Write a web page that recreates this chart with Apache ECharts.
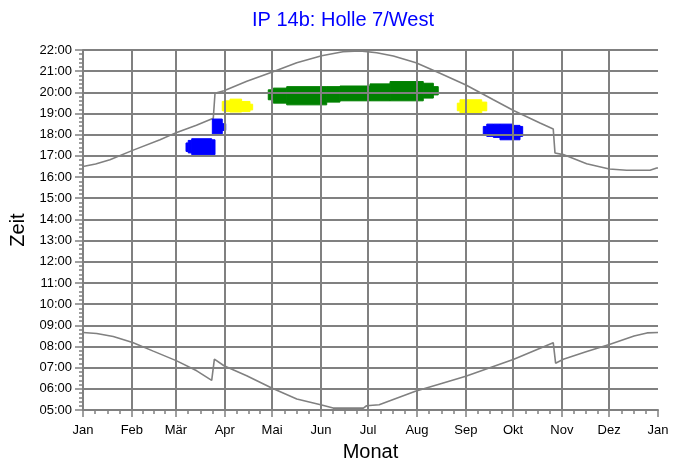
<!DOCTYPE html>
<html>
<head>
<meta charset="utf-8">
<script src="https://cdn.jsdelivr.net/npm/echarts@6/dist/echarts.min.js"></script>
<style>
  html, body { margin: 0; padding: 0; background: #fff; }
  #chart { width: 686px; height: 467px; }
</style>
</head>
<body>
<div id="chart"></div>
<script>
// Monatsanfaenge (Tag im Jahr) und Beschriftung
const monthStarts = [0, 31, 59, 90, 120, 151, 181, 212, 243, 273, 304, 334, 365];
const monthNames = ['Jan', 'Feb', 'Mär', 'Apr', 'Mai', 'Jun', 'Jul', 'Aug', 'Sep', 'Okt', 'Nov', 'Dez', 'Jan'];

// Sonnenuntergang (Stunden, Ortszeit)
const sunsetDays  = [0, 8, 17.1, 31.5, 48.9, 59.5, 72, 82.7, 83.8, 89.5, 104, 119.8, 135.7, 151.5, 165, 175.8, 186.4, 197, 211.4, 226.6, 243.1, 260.5, 273.6, 290.1, 298.5, 299.6, 304.9, 319.7, 334.1, 345.1, 359.9, 364.2, 365];
const sunsetTimes = [16.50, 16.62, 16.82, 17.26, 17.76, 18.11, 18.45, 18.78, 19.96, 20.08, 20.52, 20.95, 21.40, 21.73, 21.92, 21.96, 21.87, 21.72, 21.40, 20.90, 20.35, 19.65, 19.13, 18.55, 18.27, 17.14, 17.06, 16.63, 16.38, 16.32, 16.32, 16.43, 16.43];

// Sonnenaufgang
const sunriseDays  = [0, 8.7, 19.2, 31.5, 44.6, 59.5, 72.2, 81.7, 83.4, 89.5, 103.9, 119.8, 135.7, 151.5, 158.8, 178, 180, 188, 211, 227.6, 243, 273.5, 298.5, 300, 304.9, 319.3, 334.6, 349.8, 358, 365];
const sunriseTimes = [8.66, 8.61, 8.47, 8.19, 7.78, 7.32, 6.85, 6.40, 7.40, 7.09, 6.62, 6.04, 5.52, 5.24, 5.09, 5.09, 5.20, 5.25, 5.89, 6.25, 6.59, 7.40, 8.18, 7.21, 7.40, 7.75, 8.11, 8.49, 8.64, 8.66];

// Schattenwurf-Flaechen: [Tag von, Tag bis, Zeit von, Zeit bis]
const blueShadow = [
  [65.4, 66.8, 17.21, 17.61], [66.8, 69.0, 17.14, 17.73], [69.0, 81.7, 17.06, 17.81], [81.7, 83.8, 17.06, 17.76],
  [82.1, 88.4, 18.04, 18.74], [88.4, 90.6, 18.20, 18.52],
  [254.1, 256.3, 18.03, 18.39], [256.3, 260.5, 17.92, 18.50], [260.5, 264.7, 17.87, 18.50],
  [264.7, 273.2, 17.76, 18.50], [273.2, 277.4, 17.76, 18.44], [277.4, 279.1, 17.92, 18.39]
];
const yellowShadow = [
  [88.4, 89.5, 19.13, 19.57], [89.5, 93.3, 19.09, 19.60], [93.3, 100.7, 19.07, 19.68],
  [100.7, 106.0, 19.09, 19.57], [106.0, 107.7, 19.17, 19.44],
  [237.6, 239.3, 19.13, 19.49], [239.3, 253.1, 19.02, 19.65], [253.1, 256.3, 19.13, 19.54]
];
const greenShadow = [
  [117.6, 120.8, 19.65, 20.12], [120.8, 129.3, 19.49, 20.20], [129.3, 154.7, 19.41, 20.27],
  [154.7, 163.1, 19.54, 20.27], [163.1, 182.2, 19.60, 20.30], [182.2, 194.9, 19.60, 20.40],
  [194.9, 216.0, 19.60, 20.51], [216.0, 222.4, 19.73, 20.43], [222.4, 225.5, 19.88, 20.27]
];

// Zwischenstriche: Viertelmonate
const minorTicks = [];
for (let i = 0; i < monthStarts.length - 1; i++) {
  const a = monthStarts[i], b = monthStarts[i + 1];
  minorTicks.push(a + (b - a) / 4, a + (b - a) / 2, a + (b - a) * 3 / 4);
}

const gray = '#808080';
const font = 'Liberation Sans, Arial, sans-serif';

function pairs (xs, ys) {
  return xs.map((x, i) => [x, ys[i]]);
}

function rectItem (params, api) {
  const p0 = api.coord([api.value(0), api.value(3)]);
  const p1 = api.coord([api.value(1), api.value(2)]);
  const c = api.visual('color');
  return {
    type: 'rect',
    shape: { x: p0[0], y: p0[1], width: p1[0] - p0[0], height: p1[1] - p0[1] },
    style: { fill: c, stroke: c, lineWidth: 1 }
  };
}

function shadowSeries (data, color) {
  return {
    type: 'custom',
    renderItem: rectItem,
    data: data,
    itemStyle: { color: color },
    encode: { x: [0, 1], y: [2, 3] },
    z: -1,
    silent: true
  };
}

const chart = echarts.init(document.getElementById('chart'));
const splitColors = monthStarts.map((d, i) => (i === monthStarts.length - 1 ? 'rgba(0,0,0,0)' : gray));

chart.setOption({
  animation: false,
  title: {
    text: 'IP 14b: Holle 7/West',
    left: 'center',
    top: 5,
    textStyle: { color: '#0000ff', fontFamily: font, fontSize: 20, fontWeight: 'normal' }
  },
  grid: { left: 83, right: 28, top: 50, bottom: 56 },
  xAxis: [
    {
      type: 'value',
      min: 0,
      max: 365,
      position: 'bottom',
      name: 'Monat',
      nameLocation: 'middle',
      nameGap: 32,
      nameTextStyle: { color: '#000', fontFamily: font, fontSize: 20 },
      axisLine: { show: true, lineStyle: { color: gray, width: 2 } },
      axisTick: { show: true, customValues: monthStarts, length: 7, lineStyle: { color: gray, width: 1.5 } },
      axisLabel: {
        customValues: monthStarts,
        margin: 14,
        color: '#000',
        fontFamily: font,
        fontSize: 13,
        formatter: function (v) {
          const i = monthStarts.indexOf(Math.round(v));
          return i >= 0 ? monthNames[i] : '';
        }
      },
      splitLine: { show: true, lineStyle: { color: splitColors, width: 2 } }
    },
    {
      type: 'value',
      min: 0,
      max: 365,
      position: 'bottom',
      axisLine: { show: false },
      axisTick: { show: true, customValues: minorTicks, length: 4, lineStyle: { color: gray, width: 1.5 } },
      axisLabel: { show: false },
      splitLine: { show: false }
    }
  ],
  yAxis: {
    type: 'value',
    min: 5,
    max: 22,
    interval: 1,
    name: 'Zeit',
    nameLocation: 'middle',
    nameGap: 54,
    nameTextStyle: { color: '#000', fontFamily: font, fontSize: 20 },
    axisLine: { show: true, lineStyle: { color: gray, width: 2 } },
    axisTick: { show: true, length: 8, lineStyle: { color: gray, width: 1.5 } },
    minorTick: { show: true, splitNumber: 5, length: 4, lineStyle: { color: gray, width: 1.5 } },
    axisLabel: {
      margin: 11,
      color: '#000',
      fontFamily: font,
      fontSize: 13,
      formatter: function (v) {
        return (v < 10 ? '0' : '') + v + ':00';
      }
    },
    splitLine: { show: true, lineStyle: { color: gray, width: 2 } }
  },
  series: [
    {
      name: 'Sonnenuntergang',
      type: 'line',
      data: pairs(sunsetDays, sunsetTimes),
      showSymbol: false,
      lineStyle: { color: gray, width: 1.6 },
      z: -2
    },
    {
      name: 'Sonnenaufgang',
      type: 'line',
      data: pairs(sunriseDays, sunriseTimes),
      showSymbol: false,
      lineStyle: { color: gray, width: 1.6 },
      z: -2
    },
    shadowSeries(blueShadow, '#0000ff'),
    shadowSeries(yellowShadow, '#ffff00'),
    shadowSeries(greenShadow, '#008000')
  ]
});
</script>
</body>
</html>
